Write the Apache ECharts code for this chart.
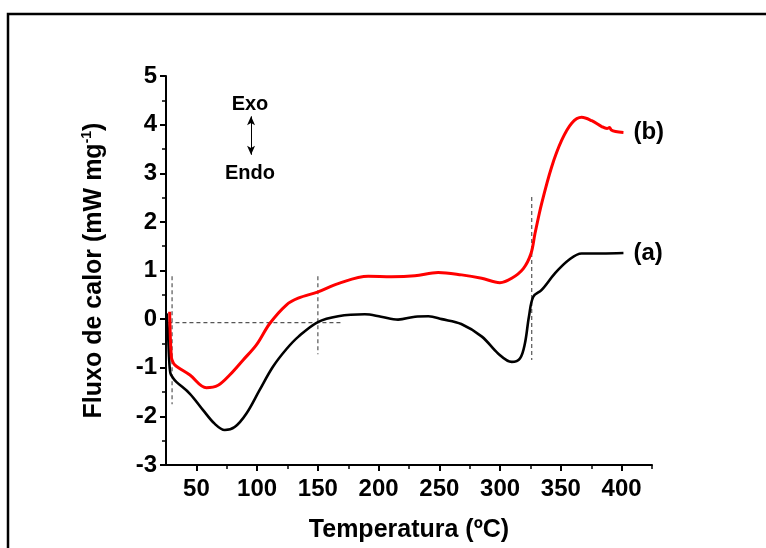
<!DOCTYPE html>
<html>
<head>
<meta charset="utf-8">
<script src="https://cdn.jsdelivr.net/npm/echarts@6/dist/echarts.min.js"></script>
<style>
  html, body { margin: 0; padding: 0; background: #fff; }
  #main-chart { width: 766px; height: 548px; }
</style>
</head>
<body>
<div id="main-chart"></div>
<script>
// curva (a) - preta
var tempA = [25.5, 26.7, 27.5, 28.6, 30.5, 33.5, 44.5, 55.5, 65, 73.3, 81.5, 91.2, 102, 113, 124, 134, 150, 166.7, 188.6, 202, 216, 230, 241, 252, 268, 285, 298.5, 309.5, 316.3, 320.4, 323.7, 327.3, 334.2, 345.1, 356.2, 367.1, 383.6, 401.5];
var fluxA = [0.12, -0.3, -0.78, -1.11, -1.2, -1.29, -1.53, -1.87, -2.15, -2.28, -2.22, -1.94, -1.46, -0.98, -0.62, -0.36, -0.06, 0.06, 0.10, 0.05, -0.01, 0.05, 0.06, 0.0, -0.10, -0.36, -0.71, -0.88, -0.81, -0.50, 0.05, 0.46, 0.60, 0.94, 1.21, 1.35, 1.35, 1.36];
// curva (b) - vermelha
var tempB = [28, 29.4, 31, 33.5, 44.7, 58.2, 67.9, 77.4, 88.5, 99.4, 110.4, 124, 133.8, 150.2, 166.7, 191.4, 210.6, 229.8, 249, 268.3, 284.8, 299.8, 309.5, 319.1, 325.4, 328.7, 334.2, 342.4, 350.7, 358.9, 367.1, 375.4, 383.6, 388, 390, 391.5, 395, 401.5];
var fluxB = [0.15, -0.78, -0.9, -0.97, -1.15, -1.41, -1.36, -1.15, -0.84, -0.53, -0.09, 0.29, 0.43, 0.56, 0.73, 0.88, 0.87, 0.89, 0.96, 0.91, 0.84, 0.75, 0.84, 1.04, 1.35, 1.76, 2.38, 3.13, 3.68, 4.03, 4.15, 4.08, 3.96, 3.92, 3.94, 3.89, 3.86, 3.84];
// linhas tracejadas
var dashX = [[30, 30], [150, 150], [326, 326], [27, 170]];
var dashY = [[0.88, -1.75], [0.88, -0.72], [2.51, -0.84], [-0.07, -0.07]];
// eixos
var xTicks = [50, 100, 150, 200, 250, 300, 350, 400];
var xMinorTicks = [75, 125, 175, 225, 275, 325, 375, 425];
var arrowT = 95;
var arrowFlux = [4.17, 3.38];

function pairs(xs, ys) {
    var out = [];
    for (var i = 0; i < xs.length; i++) out.push([xs[i], ys[i]]);
    return out;
}

var FONT = 'Liberation Sans';
var myChart = echarts.init(document.getElementById('main-chart'));

var series = [];
dashX.forEach(function (xs, i) {
    series.push({
        type: 'line', data: pairs(xs, dashY[i]), symbol: 'none', silent: true,
        lineStyle: { color: '#555', width: 1.2, type: [4, 3] }
    });
});
series.push({
    name: '(a)', type: 'line', data: pairs(tempA, fluxA), symbol: 'none',
    smooth: 0.35,
    lineStyle: { color: '#000', width: 2.6 },
    endLabel: { show: true, formatter: '(a)', distance: 10, color: '#000',
                fontFamily: FONT, fontWeight: 'bold', fontSize: 24 },
    markLine: {
        silent: true, symbol: ['arrow', 'arrow'], symbolSize: [6, 9],
        label: { show: false },
        lineStyle: { color: '#000', width: 1, type: 'solid' },
        data: [[{ coord: [arrowT, arrowFlux[0]] }, { coord: [arrowT, arrowFlux[1]] }]]
    }
});
series.push({
    name: '(b)', type: 'line', data: pairs(tempB, fluxB), symbol: 'none',
    smooth: 0.35,
    lineStyle: { color: '#ff0000', width: 3 },
    endLabel: { show: true, formatter: '(b)', distance: 10, color: '#000',
                fontFamily: FONT, fontWeight: 'bold', fontSize: 24 }
});

var option = {
    animation: false,
    grid: { left: 166, right: 114, top: 76, bottom: 83 },
    xAxis: [
        {
            type: 'value', min: 25, max: 425,
            name: 'Temperatura (ºC)', nameLocation: 'middle', nameGap: 53,
            nameTextStyle: { fontFamily: FONT, fontWeight: 'bold', fontSize: 25, color: '#000' },
            axisLine: { onZero: false, lineStyle: { color: '#000', width: 2 } },
            axisTick: { length: 6, lineStyle: { width: 2, color: '#000' }, customValues: xTicks },
            axisLabel: { customValues: xTicks, margin: 12, fontFamily: FONT, fontWeight: 'bold', fontSize: 24, color: '#000' },
            splitLine: { show: false }
        },
        {
            type: 'value', min: 25, max: 425, position: 'bottom',
            axisLine: { show: false, onZero: false },
            axisTick: { length: 4, lineStyle: { width: 1.5, color: '#000' }, customValues: xMinorTicks },
            axisLabel: { show: false },
            splitLine: { show: false }
        }
    ],
    yAxis: {
        type: 'value', min: -3, max: 5, interval: 1,
        name: '{t|Fluxo de calor (mW mg}{s|-1}{t|)}', nameLocation: 'middle', nameGap: 58,
        nameTextStyle: {
            rich: {
                t: { fontFamily: FONT, fontWeight: 'bold', fontSize: 25, color: '#000', lineHeight: 28 },
                s: { fontFamily: FONT, fontWeight: 'bold', fontSize: 14, color: '#000', verticalAlign: 'top', lineHeight: 28 }
            }
        },
        axisLine: { onZero: false, lineStyle: { color: '#000', width: 2 } },
        axisTick: { length: 6, lineStyle: { width: 2, color: '#000' } },
        minorTick: { show: true, splitNumber: 2, length: 4, lineStyle: { width: 1.5, color: '#000' } },
        axisLabel: { margin: 9, fontFamily: FONT, fontWeight: 'bold', fontSize: 24, color: '#000' },
        splitLine: { show: false }
    },
    graphic: [
        { type: 'rect', shape: { x: 8, y: 14, width: 800, height: 600 }, silent: true,
          style: { fill: 'none', stroke: '#000', lineWidth: 2.5 } },
        { type: 'text', x: 250, y: 104, silent: true,
          style: { text: 'Exo', fontFamily: FONT, fontWeight: 'bold', fontSize: 20, fill: '#000', align: 'center', verticalAlign: 'middle' } },
        { type: 'text', x: 250, y: 173, silent: true,
          style: { text: 'Endo', fontFamily: FONT, fontWeight: 'bold', fontSize: 20, fill: '#000', align: 'center', verticalAlign: 'middle' } }
    ],
    series: series
};

myChart.setOption(option);
</script>
</body>
</html>
